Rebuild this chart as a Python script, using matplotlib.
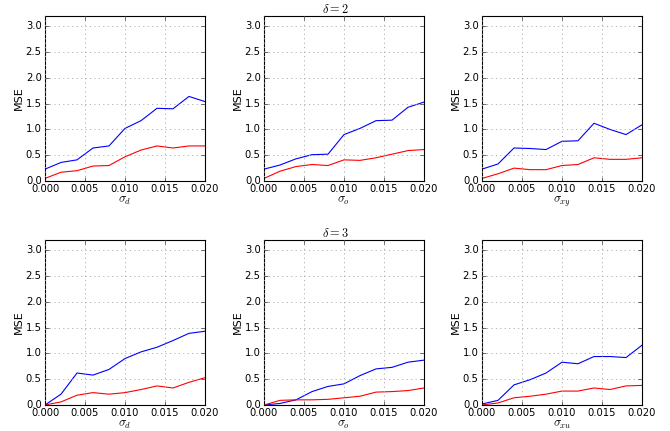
import matplotlib
matplotlib.use('Agg')
import matplotlib.pyplot as plt
import numpy as np

plt.style.use('classic')
plt.rcParams['figure.facecolor'] = 'white'
plt.rcParams['savefig.facecolor'] = 'white'
plt.rcParams['font.size'] = 9
plt.rcParams['mathtext.fontset'] = 'cm'

sigma = [0.000, 0.002, 0.004, 0.006, 0.008, 0.010, 0.012, 0.014, 0.016, 0.018, 0.020]

# delta = 2
d2_sd_blue = [0.23, 0.36, 0.41, 0.64, 0.68, 1.02, 1.17, 1.41, 1.40, 1.64, 1.54]
d2_sd_red = [0.05, 0.17, 0.20, 0.29, 0.30, 0.47, 0.60, 0.68, 0.64, 0.68, 0.68]
d2_so_blue = [0.23, 0.31, 0.43, 0.51, 0.52, 0.90, 1.02, 1.17, 1.18, 1.43, 1.53]
d2_so_red = [0.05, 0.19, 0.28, 0.32, 0.30, 0.41, 0.40, 0.45, 0.52, 0.59, 0.61]
d2_sxy_blue = [0.23, 0.33, 0.64, 0.63, 0.61, 0.77, 0.78, 1.12, 1.00, 0.90, 1.09]
d2_sxy_red = [0.05, 0.14, 0.25, 0.22, 0.22, 0.30, 0.32, 0.45, 0.42, 0.42, 0.45]

# delta = 3
d3_sd_blue = [0.00, 0.21, 0.62, 0.58, 0.69, 0.90, 1.03, 1.12, 1.25, 1.39, 1.43]
d3_sd_red = [0.00, 0.06, 0.19, 0.24, 0.21, 0.24, 0.30, 0.37, 0.33, 0.44, 0.53]
d3_so_blue = [0.00, 0.03, 0.10, 0.26, 0.36, 0.41, 0.57, 0.70, 0.73, 0.83, 0.87]
d3_so_red = [0.00, 0.09, 0.10, 0.10, 0.11, 0.14, 0.17, 0.25, 0.26, 0.28, 0.33]
d3_sxu_blue = [0.02, 0.09, 0.39, 0.49, 0.62, 0.83, 0.80, 0.94, 0.94, 0.92, 1.16]
d3_sxu_red = [0.00, 0.04, 0.14, 0.17, 0.21, 0.27, 0.27, 0.33, 0.30, 0.37, 0.38]

xlabels = [r'$\sigma_d$', r'$\sigma_o$', r'$\sigma_{xy}$',
           r'$\sigma_d$', r'$\sigma_o$', r'$\sigma_{xu}$']
blues = [d2_sd_blue, d2_so_blue, d2_sxy_blue, d3_sd_blue, d3_so_blue, d3_sxu_blue]
reds = [d2_sd_red, d2_so_red, d2_sxy_red, d3_sd_red, d3_so_red, d3_sxu_red]

W, H = 670, 431
fig = plt.figure(figsize=(W / 80.0, H / 80.0), dpi=80)

lefts = [45, 264, 482]
tops = [16, 240]
aw, ah = 160, 165

for i in range(6):
    r, c = i // 3, i % 3
    ax = fig.add_axes([lefts[c] / W, 1 - (tops[r] + ah) / H, aw / W, ah / H])
    ax.plot(sigma, blues[i], color='b', lw=1.0)
    ax.plot(sigma, reds[i], color='r', lw=1.0)
    ax.set_xlim(0, 0.02)
    ax.set_ylim(0, 3.2)
    ax.set_xticks([0, 0.005, 0.01, 0.015, 0.02])
    ax.set_yticks([0, 0.5, 1.0, 1.5, 2.0, 2.5, 3.0])
    ax.xaxis.set_major_formatter(matplotlib.ticker.FormatStrFormatter('%.3f'))
    ax.yaxis.set_major_formatter(matplotlib.ticker.FormatStrFormatter('%.1f'))
    ax.grid(True, linestyle=':', color='0.65', lw=0.8)
    ax.set_xlabel(xlabels[i], fontsize=11, labelpad=0)
    ax.set_ylabel('MSE', fontsize=10, labelpad=2)
    ax.tick_params(labelsize=9, pad=3)

fig.text(0.5, 1 - tops[0] / H, r'$\delta=2$', ha='center', va='bottom', fontsize=11)
fig.text(0.5, 1 - tops[1] / H, r'$\delta=3$', ha='center', va='bottom', fontsize=11)

plt.savefig('out.png', dpi=80)
